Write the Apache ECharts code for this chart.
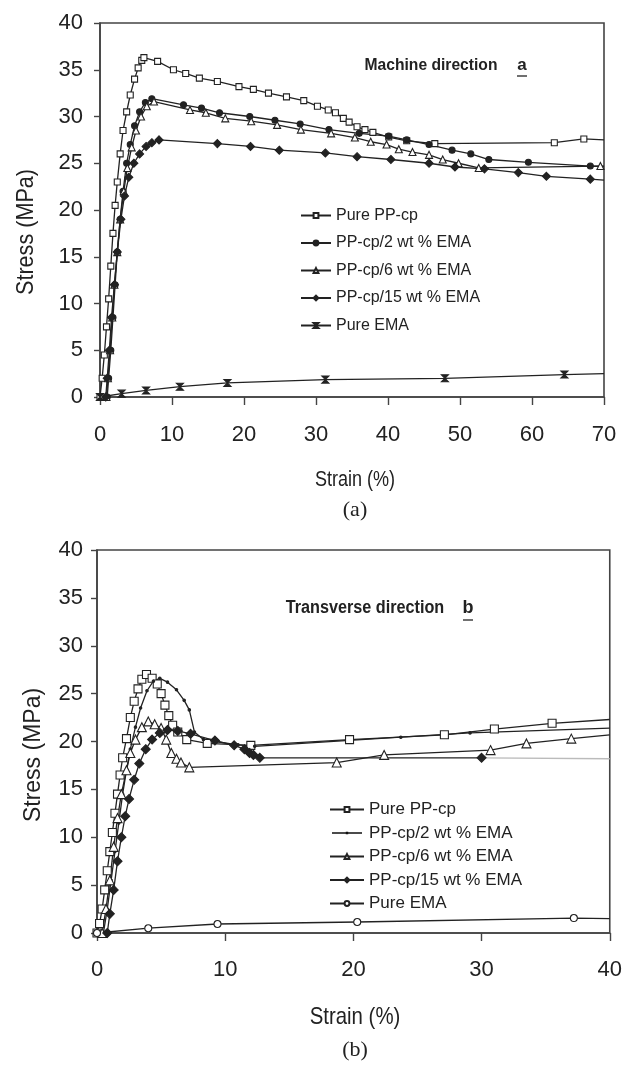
<!DOCTYPE html>
<html>
<head>
<meta charset="UTF-8">
<script src="https://cdn.jsdelivr.net/npm/echarts@6/dist/echarts.min.js"></script>
<style>
    body { margin: 0; padding: 0; background: #fff; }
    #a { width: 625px; height: 535px; }
    #b { width: 625px; height: 530px; }
</style>
</head>
<body>
<div id="a"></div>
<div id="b"></div>
<script>
    var names = ['Pure PP-cp', 'PP-cp/2 wt % EMA', 'PP-cp/6 wt % EMA', 'PP-cp/15 wt % EMA', 'Pure EMA'];
    var yTicks = [0, 40, 5];

    // (a) machine direction, [strain %, stress MPa]
    var md_pp = [[0,0],[0.3,2],[0.6,4.5],[0.9,7.5],[1.2,10.5],[1.5,14],[1.8,17.5],[2.1,20.5],[2.4,23],[2.8,26],[3.2,28.5],[3.7,30.5],[4.2,32.3],[4.8,34],[5.3,35.2],[5.8,36],[6.1,36.3],[8.0,35.9],[10.2,35.0],[11.9,34.6],[13.8,34.1],[16.3,33.75],[19.3,33.2],[21.3,32.9],[23.4,32.5],[25.9,32.1],[28.3,31.7],[30.2,31.1],[31.7,30.7],[32.7,30.4],[33.8,29.8],[34.6,29.4],[35.7,28.9],[36.8,28.6],[37.9,28.3],[40.1,27.8],[42.6,27.4],[46.5,27.1],[63.1,27.2],[67.2,27.6],[70,27.5]];
    var md_2 = [[1.0,0],[1.2,2],[1.5,5],[1.8,8.5],[2.1,12],[2.4,15.5],[2.8,19],[3.2,22],[3.7,25],[4.2,27],[4.8,29],[5.5,30.5],[6.3,31.5],[7.2,31.9],[11.6,31.25],[14.1,30.9],[16.6,30.4],[20.8,30.0],[24.3,29.6],[27.8,29.2],[31.8,28.6],[36,28.2],[40.1,27.9],[42.6,27.5],[45.7,27.0],[48.9,26.4],[51.5,26.0],[54,25.4],[59.5,25.1],[68.1,24.7],[70,24.7]];
    var md_6 = [[0.9,0],[1.1,2],[1.4,5],[1.7,8.5],[2.0,12],[2.4,15.5],[2.8,19],[3.3,22],[3.8,24.5],[4.4,26.7],[5.0,28.5],[5.7,30],[6.5,31.1],[7.5,31.6],[12.5,30.7],[14.7,30.4],[17.4,29.8],[21,29.5],[24.6,29.1],[27.9,28.6],[32.1,28.2],[35.4,27.75],[37.6,27.3],[39.8,27.0],[41.5,26.5],[43.4,26.2],[45.7,25.9],[47.6,25.4],[49.8,25.0],[52.6,24.5],[69.5,24.7],[70,24.6]];
    var md_15 = [[0.8,0],[1.0,2],[1.3,5],[1.6,8.5],[2.0,12],[2.4,15.5],[2.9,19],[3.4,21.5],[4.0,23.5],[4.7,25],[5.5,26],[6.4,26.8],[7.2,27.2],[8.2,27.5],[16.3,27.1],[20.9,26.8],[24.9,26.4],[31.3,26.1],[35.7,25.7],[40.4,25.4],[45.7,25.0],[49.3,24.6],[53.4,24.4],[58.1,24.0],[62,23.6],[68.1,23.3],[70,23.2]];
    var md_ema = [[0,0],[3,0.36],[6.4,0.7],[11.1,1.1],[17.7,1.5],[31.3,1.86],[47.9,2.0],[64.5,2.4],[70,2.5]];

    // (b) transverse direction
    var td_pp = [[0,0],[0.2,1],[0.4,2.5],[0.6,4.5],[0.8,6.5],[1.0,8.5],[1.2,10.5],[1.4,12.5],[1.6,14.5],[1.8,16.5],[2.0,18.3],[2.3,20.3],[2.6,22.5],[2.9,24.2],[3.2,25.5],[3.5,26.5],[3.86,27],[4.3,26.6],[4.7,26.0],[5.0,25.0],[5.3,23.8],[5.6,22.7],[5.9,21.7],[6.3,21.0],[7.0,20.2],[8.6,19.8],[12.0,19.6],[19.7,20.2],[27.1,20.7],[31,21.3],[35.5,21.9],[40,22.3]];
    var td_2 = [[0.5,0],[0.8,2.5],[1.1,5.5],[1.4,8.5],[1.7,11.5],[2.0,14.5],[2.3,17],[2.6,19.2],[3.0,21.5],[3.4,23.5],[3.9,25.3],[4.4,26.3],[4.9,26.6],[5.5,26.2],[6.2,25.4],[6.8,24.3],[7.2,23.3],[7.6,21],[8.3,20.2],[9.2,20],[11,19.65],[12.3,19.5],[23.7,20.45],[29.1,20.9],[40,21.4]];
    var td_6 = [[0.4,0],[0.7,2.5],[1.0,5.5],[1.3,9],[1.6,12],[1.9,14.5],[2.3,17],[2.6,18.8],[3.0,20.2],[3.5,21.5],[4.0,22.1],[4.5,21.8],[5.0,21.4],[5.4,20.2],[5.8,18.8],[6.2,18.2],[6.55,17.8],[7.2,17.3],[18.7,17.8],[22.4,18.6],[30.7,19.1],[33.5,19.8],[37,20.3],[40,20.7]];
    var td_15 = [[0.8,0],[1.0,2],[1.3,4.5],[1.6,7.5],[1.9,10],[2.2,12.2],[2.5,14],[2.9,16],[3.3,17.7],[3.8,19.2],[4.3,20.2],[4.9,20.9],[5.5,21.2],[6.3,21.1],[7.3,20.8],[9.2,20.1],[10.7,19.6],[11.5,19.2],[11.9,18.8],[12.2,18.6],[12.7,18.3],[30,18.3]];
    var td_15_tail = [[30,18.3],[40,18.2]];
    var td_ema = [[0,0],[4,0.5],[9.4,0.94],[20.3,1.15],[37.2,1.56],[40,1.5]];

    var SANS = '"Liberation Sans", Arial, sans-serif';
    var INK = '#222';
    var hourglass = 'path://M0,0L10,0L0,10L10,10Z';
    // thin line with a tiny dot, for the legend of the dotted curve
    var dotLine = 'path://M0,0L0.01,0L0,0.01Z M0,2.3H30V3.7H0Z M13.8,1.7H16.2V4.3H13.8Z M30,6L29.99,6L30,5.99Z';

    function mk(name, data, xMax, symbol, size, fill, color) {
        return {
            name: name,
            type: 'line',
            data: data.map(function (p) {
                // no marker where the curve just runs into the frame
                return p[0] >= xMax ? {value: p, symbol: 'none'} : p;
            }),
            symbol: symbol,
            symbolSize: size,
            showAllSymbol: true,
            clip: false,
            lineStyle: {color: color || INK, width: 1.3},
            itemStyle: {color: fill, borderColor: INK, borderWidth: 1.1},
            z: 3
        };
    }

    function axisCommon(min, max, fs, margin, tick) {
        return {
            type: 'value',
            min: min,
            max: max,
            interval: yTicks[2],
            splitLine: {show: false},
            axisLine: {show: true, lineStyle: {color: '#444', width: 1.6}},
            axisTick: {show: true, length: tick, lineStyle: {color: '#444', width: 1.4}},
            axisLabel: {color: '#222', fontSize: fs, fontFamily: SANS, margin: margin}
        };
    }

    function txt(x, y, s, font, sx, rot) {
        return {
            type: 'text', x: x, y: y, scaleX: sx || 1, rotation: rot || 0,
            style: {text: s, font: font, fill: '#222', align: 'center', verticalAlign: 'middle'}
        };
    }

    // chart (a)
    var chartA = echarts.init(document.getElementById('a'));
    var xa = axisCommon(0, 70, 22, 27, 8);
    xa.interval = 10;
    var ya = axisCommon(yTicks[0], yTicks[1], 22, 17, 6);
    chartA.setOption({
        animation: false,
        grid: {left: 100, top: 23, width: 504, height: 374, show: true, borderColor: '#444', borderWidth: 1.6},
        xAxis: xa,
        yAxis: ya,
        legend: {
            orient: 'vertical', left: 295, top: 201, itemGap: 8.5,
            itemWidth: 30, itemHeight: 6,
            textStyle: {fontFamily: SANS, fontSize: 16, color: '#222', lineHeight: 19},
            data: names
        },
        graphic: [
            txt(431, 65, 'Machine direction', 'bold 17px ' + SANS, 0.92),
            txt(522, 65, 'a', 'bold 17px ' + SANS),
            {type: 'line', shape: {x1: 517, y1: 76, x2: 527, y2: 76}, style: {stroke: '#222', lineWidth: 1.3}},
            txt(26, 232, 'Stress (MPa)', '24px ' + SANS, 0.9, Math.PI / 2),
            txt(355, 480, 'Strain (%)', '22px ' + SANS, 0.82),
            txt(355, 510, '(a)', '22px "Liberation Serif", serif')
        ],
        series: [
            mk(names[0], md_pp, 70, 'rect', 6, '#fff'),
            mk(names[1], md_2, 70, 'circle', 6, INK),
            mk(names[2], md_6, 70, 'triangle', 7, '#fff'),
            mk(names[3], md_15, 70, 'diamond', 8, INK),
            mk(names[4], md_ema, 70, hourglass, 7, INK)
        ]
    });

    // chart (b)
    var chartB = echarts.init(document.getElementById('b'));
    var xb = axisCommon(0, 40, 22, 26, 8);
    xb.interval = 10;
    var yb = axisCommon(yTicks[0], yTicks[1], 22, 14, 6);
    chartB.setOption({
        animation: false,
        grid: {left: 97, top: 15, width: 518, height: 383, show: true, borderColor: '#444', borderWidth: 1.6},
        xAxis: xb,
        yAxis: yb,
        legend: {
            orient: 'vertical', left: 324, top: 260, itemGap: 4.5,
            itemWidth: 34, itemHeight: 6,
            textStyle: {fontFamily: SANS, fontSize: 17, color: '#222', lineHeight: 19},
            data: [names[0], {name: names[1], icon: dotLine, itemStyle: {borderWidth: 0, color: '#111'}}, names[2], names[3], names[4]]
        },
        graphic: [
            txt(365, 73, 'Transverse direction', 'bold 18px ' + SANS, 0.9),
            txt(468, 73, 'b', 'bold 18px ' + SANS),
            {type: 'line', shape: {x1: 463, y1: 85, x2: 473, y2: 85}, style: {stroke: '#222', lineWidth: 1.3}},
            txt(34, 220, 'Stress (MPa)', '23px ' + SANS, 1, Math.PI / 2),
            txt(355, 482, 'Strain (%)', '24px ' + SANS, 0.85),
            txt(355, 515, '(b)', '22px "Liberation Serif", serif')
        ],
        series: [
            mk(names[0], td_pp, 40, 'rect', 8, '#fff'),
            mk(names[1], td_2, 40, 'circle', 2.5, INK),
            mk(names[2], td_6, 40, 'triangle', 9, '#fff'),
            mk(names[3], td_15, 40, 'diamond', 9, INK),
            mk('', td_15_tail, 40, 'none', 0, INK, '#bbb'),
            mk(names[4], td_ema, 40, 'circle', 7, '#fff')
        ]
    });
</script>
</body>
</html>
